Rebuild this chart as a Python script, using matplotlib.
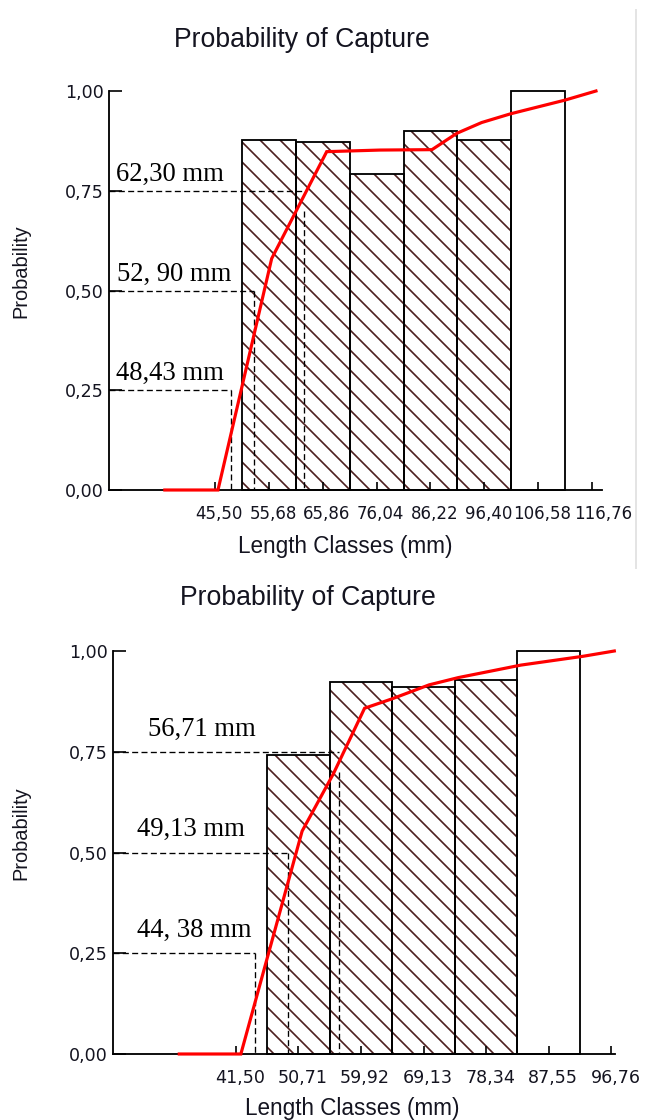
import matplotlib
matplotlib.use('Agg')

import matplotlib.pyplot as plt
from matplotlib import transforms
from matplotlib.lines import Line2D

# upper panel: length classes (mm) and probabilities
top_classes = [45.50, 55.68, 65.86, 76.04, 86.22, 96.40, 106.58, 116.76]
top_bar_len = [55.68, 65.86, 76.04, 86.22, 96.40, 106.58]
top_bar_prob = [0.876, 0.871, 0.793, 0.900, 0.876, 1.00]
top_bar_hatched = [True, True, True, True, True, False]
top_curve_len = [36.0, 46.05, 56.2, 66.6, 76.7, 86.5, 91.2, 95.9, 101.4, 111.6, 117.5]
top_curve_prob = [0.0, 0.0, 0.58, 0.848, 0.852, 0.853, 0.894, 0.921, 0.943, 0.977, 1.0]
top_l_prob = [0.25, 0.50, 0.75]
top_l_drop = [0.25, 0.50, 0.70]
top_l_len = [48.43, 52.90, 62.30]
top_l_text = ['48,43 mm', '52, 90 mm', '62,30 mm']

# lower panel
bot_classes = [41.50, 50.71, 59.92, 69.13, 78.34, 87.55, 96.76]
bot_bar_len = [50.71, 59.92, 69.13, 78.34, 87.55]
bot_bar_prob = [0.741, 0.923, 0.910, 0.927, 1.00]
bot_bar_hatched = [True, True, True, True, False]
bot_curve_len = [33.2, 42.26, 51.27, 55.86, 60.46, 64.45, 69.96, 74.25, 83.45, 92.64, 97.2]
bot_curve_prob = [0.0, 0.0, 0.553, 0.695, 0.858, 0.881, 0.916, 0.934, 0.965, 0.987, 1.0]
bot_l_prob = [0.25, 0.50, 0.75]
bot_l_drop = [0.25, 0.50, 0.70]
bot_l_len = [44.38, 49.13, 56.71]
bot_l_text = ['44, 38 mm', '49,13 mm', '56,71 mm']

W, H, DPI = 650, 1120, 120
HATCH_COLOR = '#4d1f1f'
TEXT_COLOR = '#141420'

plt.rcParams['font.family'] = ['Liberation Sans', 'DejaVu Sans']
plt.rcParams['hatch.linewidth'] = 1.0


def fx(px):
    return px / W


def fy(py):
    return 1 - py / H


def comma(v):
    return '{:.2f}'.format(v).replace('.', ',')


def draw_panel(fig, ax, classes, bar_len, bar_prob, hatched, curve_len, curve_prob,
               l_prob, l_drop, l_len, l_text, xlim, text_x, text_dy, xtick_size):
    step = classes[1] - classes[0]
    hl = [l for l, h in zip(bar_len, hatched) if h]
    hp = [p for p, h in zip(bar_prob, hatched) if h]
    ax.bar(hl, hp, width=step, color='white', edgecolor=HATCH_COLOR,
           hatch='\\\\', linewidth=0, zorder=1)
    ax.bar(bar_len, bar_prob, width=step, fill=False, edgecolor='black',
           linewidth=1.1, zorder=2, clip_on=False)

    for p, d, l, t, tx in zip(l_prob, l_drop, l_len, l_text, text_x):
        ax.plot([xlim[0], l], [p, p], color='black', lw=0.8, dashes=(4.5, 2.5), zorder=3)
        ax.plot([l, l], [d, 0], color='black', lw=0.8, dashes=(4.5, 2.5), zorder=3)
        ax.text(tx, p + text_dy, t, family='Liberation Serif', fontsize=16,
                color='black', ha='left', va='baseline', zorder=5)

    ax.plot(curve_len, curve_prob, color='#ff0000', lw=1.9, zorder=4,
            clip_on=False, solid_joinstyle='miter')

    ax.set_xlim(xlim)
    ax.set_ylim(0, 1)
    for s in ['top', 'right']:
        ax.spines[s].set_visible(False)
    for s in ['left', 'bottom']:
        ax.spines[s].set_linewidth(1.1)

    ax.set_yticks([0, 0.25, 0.5, 0.75, 1.0])
    ax.set_yticklabels([comma(v) for v in [0, 0.25, 0.5, 0.75, 1.0]],
                       family='DejaVu Sans')
    ax.tick_params(axis='y', direction='in', length=7.5, width=1.0, pad=3,
                   labelsize=10.5, labelcolor=TEXT_COLOR)
    ax.set_xticks(classes)
    ax.set_xticklabels([comma(c) for c in classes], family='DejaVu Sans')
    ax.tick_params(axis='x', direction='in', length=5, width=1.0, pad=9,
                   labelsize=xtick_size, labelcolor=TEXT_COLOR)
    shift = transforms.ScaledTranslation(2.5 / 72, 0, fig.dpi_scale_trans)
    for lbl in ax.get_xticklabels():
        lbl.set_transform(lbl.get_transform() + shift)


fig = plt.figure(figsize=(W / DPI, H / DPI), dpi=DPI)
fig.patch.set_facecolor('white')

ax1 = fig.add_axes([fx(109), fy(490), fx(602) - fx(109), (490 - 91) / H])
draw_panel(fig, ax1, top_classes, top_bar_len, top_bar_prob, top_bar_hatched,
           top_curve_len, top_curve_prob, top_l_prob, top_l_drop, top_l_len,
           top_l_text, (25.45, 118.64), [26.8, 27.0, 26.8], 0.025, 10)
# last label sits a little further right, near the picture edge
last = ax1.get_xticklabels()[-1]
last.set_transform(last.get_transform() +
                   transforms.ScaledTranslation(4 / 72, 0, fig.dpi_scale_trans))

ax2 = fig.add_axes([fx(113), fy(1054), fx(615) - fx(113), (1054 - 651) / H])
draw_panel(fig, ax2, bot_classes, bot_bar_len, bot_bar_prob, bot_bar_hatched,
           bot_curve_len, bot_curve_prob, bot_l_prob, bot_l_drop, bot_l_len,
           bot_l_text, (23.45, 97.3), [27.0, 27.0, 28.6], 0.04, 10.5)

# titles and axis labels
for tx, ty, lx, ly, py in [(302, 40, 345, 546, 271), (308, 598, 352, 1108, 833)]:
    fig.text(fx(tx), fy(ty), 'Probability of Capture',
             fontsize=16, color=TEXT_COLOR, ha='center', va='center')
    fig.text(fx(lx), fy(ly), 'Length Classes (mm)', fontsize=13.5,
             color=TEXT_COLOR, ha='center', va='center')
    fig.text(fx(21), fy(py), 'Probability', fontsize=12, color=TEXT_COLOR,
             rotation=90, ha='center', va='center')

# faint frame edge on the right of the upper panel
fig.add_artist(Line2D([fx(636), fx(636)], [fy(10), fy(568)], color='#e4e4e4', lw=1.2))

plt.savefig('out.png', dpi=DPI, facecolor='white')
